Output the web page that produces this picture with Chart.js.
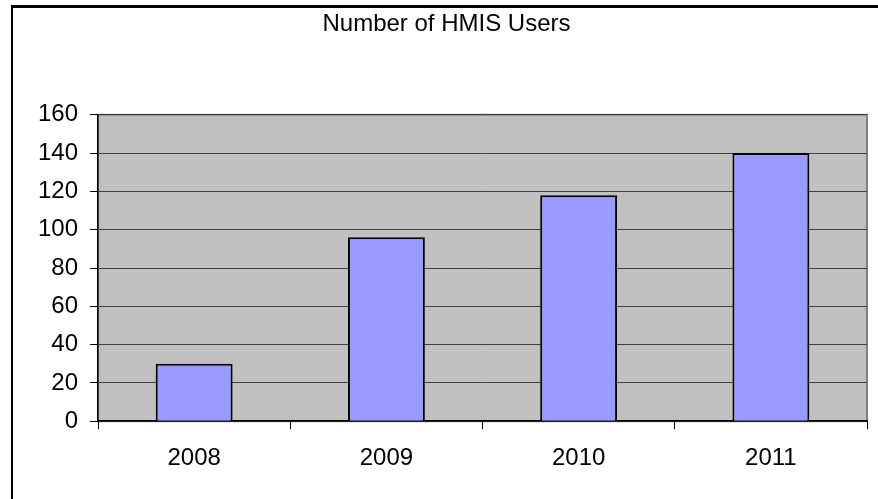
<!DOCTYPE html>
<html lang="en">
<head>
  <meta charset="UTF-8">
  <title>Number of HMIS Users</title>
  <script src="https://cdn.jsdelivr.net/npm/chart.js"></script>
  <style>
    html, body { margin: 0; padding: 0; background: #fff; overflow: hidden; }
    #frame {
      position: absolute; left: 11px; top: 5px;
      width: 900px; height: 520px;
      border-left: 2px solid #000; border-top: 3px solid #000;
    }
    #wrap { position: absolute; left: 0; top: 0; width: 878px; height: 499px; }
  </style>
</head>
<body>
  <div id="frame"></div>
  <div id="wrap"><canvas id="usersChart"></canvas></div>

  <script>
    const years = ['2008', '2009', '2010', '2011'];
    const users = [30, 96, 118, 140];
    const yTicks = [0, 20, 40, 60, 80, 100, 120, 140, 160];

    // grey plot area with a thin grey frame, like the old spreadsheet chart
    const plotBg = {
      id: 'plotBg',
      beforeDraw(chart) {
        const a = chart.chartArea;
        const ctx = chart.ctx;
        ctx.save();
        ctx.fillStyle = '#c0c0c0';
        ctx.fillRect(a.left, a.top, a.right - a.left, a.bottom - a.top);
        ctx.strokeStyle = '#808080';
        ctx.lineWidth = 2;
        ctx.strokeRect(a.left, a.top, a.right - a.left, a.bottom - a.top);
        ctx.restore();
      }
    };

    Chart.defaults.font.family = '"Liberation Sans", Arial, sans-serif';
    Chart.defaults.color = '#000';

    const ctx = document.getElementById('usersChart').getContext('2d');
    new Chart(ctx, {
      type: 'bar',
      data: {
        labels: years,
        datasets: [{
          label: 'Users',
          data: users,
          backgroundColor: '#9999ff',
          borderColor: '#000',
          borderWidth: 2,
          barPercentage: 0.4,
          categoryPercentage: 1
        }]
      },
      options: {
        responsive: true,
        maintainAspectRatio: false,
        animation: false,
        layout: { padding: { left: 26, right: 11, top: 10, bottom: 11 } },
        plugins: {
          legend: { display: false },
          tooltip: { enabled: false },
          title: {
            display: true,
            text: 'Number of HMIS Users',
            font: { size: 24, weight: 'normal' },
            color: '#000',
            padding: { top: 0, bottom: 76 }
          }
        },
        scales: {
          x: {
            grid: { drawOnChartArea: false, offset: true, color: '#000', tickLength: 8 },
            border: { color: '#000', width: 1.5 },
            ticks: { font: { size: 24 }, padding: 15 }
          },
          y: {
            min: 0,
            max: 160,
            afterBuildTicks: axis => { axis.ticks = yTicks.map(v => ({ value: v })); },
            grid: { color: '#404040', tickColor: '#000', tickLength: 8 },
            border: { color: '#000', width: 1.5 },
            ticks: { font: { size: 24 }, padding: 12 }
          }
        }
      },
      plugins: [plotBg]
    });
  </script>
</body>
</html>
